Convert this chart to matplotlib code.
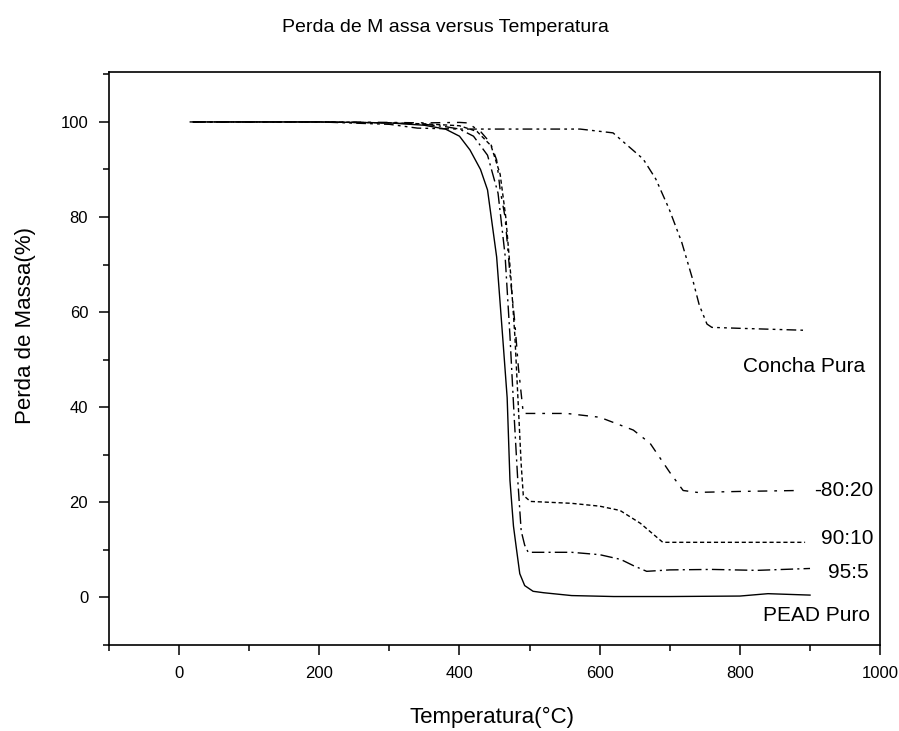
import numpy as np
import matplotlib
matplotlib.use('Agg')
import matplotlib.pyplot as plt
from matplotlib.ticker import MultipleLocator

plt.rcParams['font.family'] = ['Liberation Sans', 'DejaVu Sans']

# Curves (temperature in C, mass in %)
t_pead = [20, 100, 200, 300, 350, 380, 400, 415, 430, 440, 453, 462, 468, 472, 477,
          481, 486, 493, 505, 520, 560, 620, 700, 800, 840, 900]
m_pead = [100, 100, 100, 99.8, 99.3, 98.5, 97, 94.1, 90, 85.7, 71.6, 54, 42, 24.6, 15,
          10.5, 5, 2.5, 1.3, 1.0, 0.4, 0.2, 0.2, 0.3, 0.8, 0.5]

t_95 = [20, 100, 200, 300, 350, 380, 400, 420, 440, 455, 465, 472, 478, 483, 488,
        493, 498, 520, 560, 600, 630, 648, 667, 700, 760, 824, 900]
m_95 = [100, 100, 100, 99.8, 99.5, 99, 98.5, 97, 93, 85, 72, 55, 38, 25, 14,
        11, 9.5, 9.5, 9.5, 9, 8, 6.7, 5.5, 5.8, 5.9, 5.7, 6.1]

t_90 = [20, 100, 200, 300, 350, 400, 425, 445, 458, 466, 473, 479, 484, 488, 491,
        501, 560, 600, 629, 658, 682, 690, 750, 893]
m_90 = [100, 100, 100, 99.8, 99.6, 99.2, 98, 95, 89, 80, 68, 55, 40, 28, 21.5,
        20.2, 19.8, 19.2, 18.3, 15.6, 12.6, 11.6, 11.6, 11.6]

t_80 = [20, 100, 200, 300, 350, 400, 411, 430, 444, 453, 458, 465, 472, 479, 484,
        489, 491, 520, 553, 600, 648, 672, 700, 719, 739, 800, 885]
m_80 = [100, 100, 100, 99.9, 99.8, 99.9, 99.8, 98, 95.6, 92, 85.7, 80, 68, 57.7, 48.4,
        41.5, 38.7, 38.7, 38.7, 37.9, 35.2, 32.4, 26.3, 22.5, 22.1, 22.3, 22.5]

t_concha = [15, 100, 200, 300, 340, 400, 500, 572, 619, 662, 680, 699, 717, 732,
            742, 753, 760, 800, 890]
m_concha = [100, 100, 100, 99.5, 98.7, 98.5, 98.5, 98.5, 97.7, 92.2, 88, 81.7, 74.7, 67.2,
            61.5, 57.5, 56.8, 56.6, 56.2]

fig = plt.figure(figsize=(8.99, 7.31), dpi=100)
ax = fig.add_axes([0.1212, 0.1176, 0.8578, 0.7839])

lw = 1.0
ax.plot(t_pead, m_pead, color='black', lw=lw, linestyle='-')
ax.plot(t_95, m_95, color='black', lw=lw, dashes=(9, 3, 1.5, 3))
ax.plot(t_90, m_90, color='black', lw=lw, dashes=(3, 2))
ax.plot(t_80, m_80, color='black', lw=lw, dashes=(7, 5, 2, 5))
ax.plot(t_concha, m_concha, color='black', lw=lw, dashes=(7, 3, 2, 3, 2, 3))

fs = 15
ax.text(978, 48.6, 'Concha Pura', ha='right', va='center', fontsize=fs)
ax.text(990, 22.5, '-80:20', ha='right', va='center', fontsize=fs)
ax.text(990, 12.4, '90:10', ha='right', va='center', fontsize=fs)
ax.text(983, 5.3, '95:5', ha='right', va='center', fontsize=fs)
ax.text(986, -3.8, 'PEAD Puro', ha='right', va='center', fontsize=fs)

ax.set_xlim(-100, 1000)
ax.set_ylim(-10, 110.5)
ax.xaxis.set_major_locator(MultipleLocator(200))
ax.xaxis.set_minor_locator(MultipleLocator(100))
ax.yaxis.set_major_locator(MultipleLocator(20))
ax.yaxis.set_minor_locator(MultipleLocator(10))
ax.tick_params(which='major', direction='out', length=7, width=1.1, labelsize=12, pad=8)
ax.tick_params(which='minor', direction='out', length=4, width=1.1)
ax.tick_params(top=False, right=False)
for s in ax.spines.values():
    s.set_linewidth(1.2)

fig.text(0.547, 0.018, 'Temperatura(°C)', ha='center', va='center', fontsize=16)
fig.text(0.028, 0.555, 'Perda de Massa(%)', ha='center', va='center', rotation=90,
         fontsize=16)
fig.text(0.495, 0.963, 'Perda de M assa versus Temperatura', ha='center', va='center',
         fontsize=14)

fig.savefig('out.png', dpi=100)
